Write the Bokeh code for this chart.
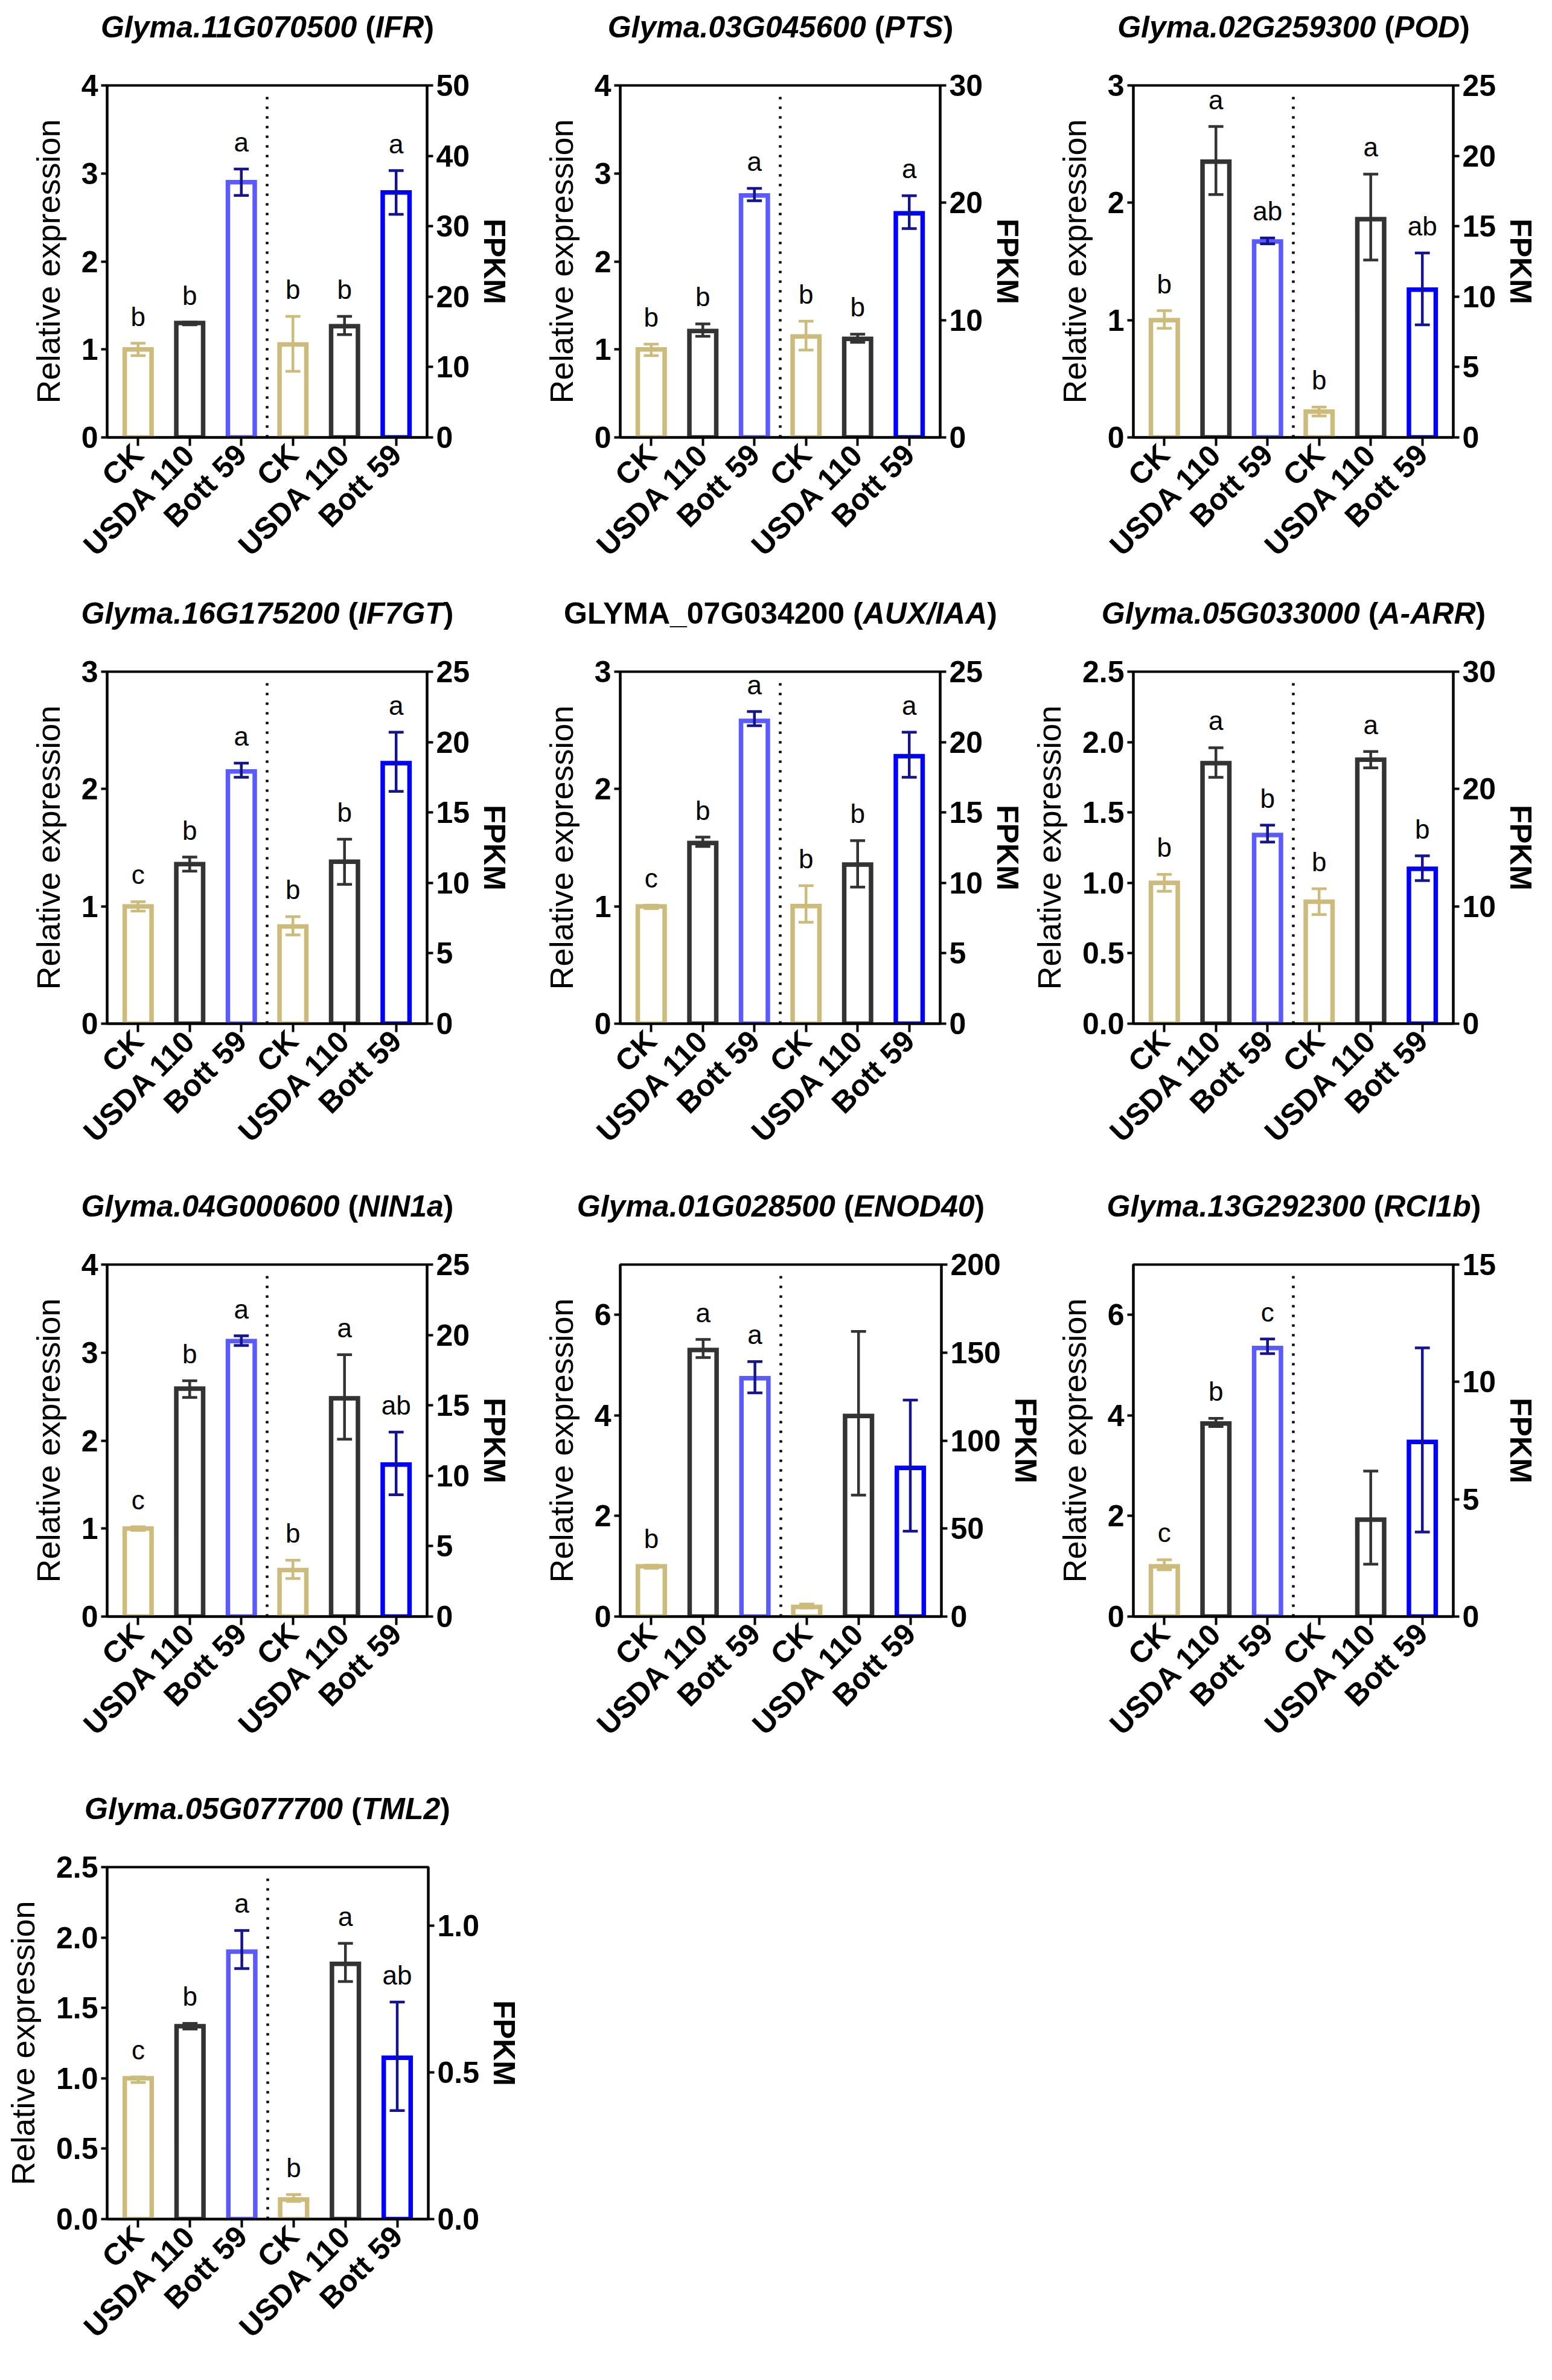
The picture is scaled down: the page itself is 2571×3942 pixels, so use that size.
import math
from bokeh.plotting import figure
from bokeh.models import Range1d, LinearAxis, FixedTicker, Div, NumeralTickFormatter
from bokeh.layouts import column, row
from bokeh.embed import file_html
from bokeh.resources import INLINE
from bokeh.core.properties import value

# ---------------- data ----------------
groups = ["CK", "USDA 110", "Bott 59"]

gene_ids = ["Glyma.11G070500", "Glyma.03G045600", "Glyma.02G259300",
            "Glyma.16G175200", "GLYMA_07G034200", "Glyma.05G033000",
            "Glyma.04G000600", "Glyma.01G028500", "Glyma.13G292300",
            "Glyma.05G077700"]
gene_names = ["IFR", "PTS", "POD", "IF7GT", "AUX/IAA", "A-ARR",
              "NIN1a", "ENOD40", "RCI1b", "TML2"]
id_italic = [True, True, True, True, False, True, True, True, True, True]

rel_ylim = [4, 4, 3, 3, 3, 2.5, 4, 7, 7, 2.5]
rel_ticks = [[0, 1, 2, 3, 4], [0, 1, 2, 3, 4], [0, 1, 2, 3], [0, 1, 2, 3],
             [0, 1, 2, 3], [0, 0.5, 1, 1.5, 2, 2.5], [0, 1, 2, 3, 4],
             [0, 2, 4, 6], [0, 2, 4, 6], [0, 0.5, 1, 1.5, 2, 2.5]]
rel_fmt = ["0", "0", "0", "0", "0", "0.0", "0", "0", "0", "0.0"]
fpkm_ylim = [50, 30, 25, 25, 25, 30, 25, 200, 15, 1.2]
fpkm_ticks = [[0, 10, 20, 30, 40, 50], [0, 10, 20, 30], [0, 5, 10, 15, 20, 25],
              [0, 5, 10, 15, 20, 25], [0, 5, 10, 15, 20, 25], [0, 10, 20, 30],
              [0, 5, 10, 15, 20, 25], [0, 50, 100, 150, 200], [0, 5, 10, 15],
              [0, 0.5, 1.0]]
fpkm_fmt = ["0", "0", "0", "0", "0", "0", "0", "0", "0", "0.0"]

rel_mean = [[1.00, 1.30, 2.90], [1.00, 1.21, 2.75], [1.00, 2.35, 1.67],
            [1.00, 1.36, 2.15], [1.00, 1.54, 2.58], [1.00, 1.85, 1.34],
            [1.00, 2.59, 3.13], [1.00, 5.30, 4.74], [1.00, 3.84, 5.34],
            [1.00, 1.37, 1.90]]
rel_lo = [[0.93, 1.28, 2.75], [0.93, 1.15, 2.69], [0.93, 2.07, 1.65],
          [0.96, 1.30, 2.10], [0.98, 1.51, 2.54], [0.94, 1.75, 1.29],
          [0.98, 2.49, 3.08], [0.96, 5.15, 4.45], [0.93, 3.78, 5.23],
          [0.97, 1.35, 1.78]]
rel_hi = [[1.07, 1.31, 3.05], [1.06, 1.29, 2.83], [1.08, 2.65, 1.70],
          [1.04, 1.42, 2.22], [1.01, 1.59, 2.66], [1.06, 1.96, 1.41],
          [1.02, 2.68, 3.19], [1.02, 5.51, 5.07], [1.13, 3.94, 5.52],
          [1.01, 1.39, 2.05]]

fpkm_mean = [[13.2, 15.8, 34.8], [8.6, 8.4, 19.1], [1.83, 15.5, 10.5],
             [6.9, 11.5, 18.5], [8.35, 11.3, 19.0], [10.4, 22.5, 13.2],
             [3.3, 15.5, 10.8], [5.5, 114, 84.5], [0, 4.13, 7.44],
             [0.067, 0.87, 0.55]]
fpkm_lo = [[9.4, 14.6, 31.7], [7.45, 8.1, 17.8], [1.52, 12.6, 8.0],
           [6.3, 9.9, 16.5], [7.2, 9.7, 17.5], [9.3, 21.8, 12.2],
           [2.7, 12.6, 8.65], [4.9, 69, 48.5], [0, 2.23, 3.6],
           [0.06, 0.81, 0.37]]
fpkm_hi = [[17.2, 17.2, 37.9], [9.9, 8.8, 20.6], [2.15, 18.7, 13.1],
           [7.6, 13.1, 20.7], [9.8, 13.0, 20.7], [11.5, 23.2, 14.3],
           [4.0, 18.6, 13.1], [7.1, 162, 123], [0, 6.2, 11.45],
           [0.084, 0.94, 0.74]]

rel_letters = [["b", "b", "a"], ["b", "b", "a"], ["b", "a", "ab"],
               ["c", "b", "a"], ["c", "b", "a"], ["b", "a", "b"],
               ["c", "b", "a"], ["b", "a", "a"], ["c", "b", "c"],
               ["c", "b", "a"]]
fpkm_letters = [["b", "b", "a"], ["b", "b", "a"], ["b", "a", "ab"],
                ["b", "b", "a"], ["b", "b", "a"], ["b", "a", "b"],
                ["b", "a", "ab"], ["", "", ""], ["", "", ""],
                ["b", "a", "ab"]]

# ---------------- style ----------------
FONT = "Liberation Sans"
rel_colors = ["#CDBB7B", "#333333", "#5A5AFF"]
fpkm_colors = ["#CDBB7B", "#333333", "#0000FF"]
err_colors = ["#CDBB7B", "#333333", "#14148C"]

FRAME_W = 532
TOP_B = 141
TITLE_H = 90


def style_axis(ax):
    ax.axis_line_width = 4
    ax.axis_line_color = "black"
    ax.major_tick_line_width = 4
    ax.major_tick_line_color = "black"
    ax.major_tick_out = 10
    ax.major_tick_in = 0
    ax.minor_tick_line_color = None
    ax.major_label_text_font = FONT
    ax.major_label_text_font_style = "bold"
    ax.major_label_text_font_size = "50px"
    ax.major_label_text_color = "black"
    ax.major_label_standoff = 5


def make_title(i, width, left_b):
    gid = f"<i>{gene_ids[i]}</i>" if id_italic[i] else gene_ids[i]
    html_text = f"{gid} (<i>{gene_names[i]}</i>)"
    shift = (left_b + FRAME_W / 2) - width / 2
    inner = (f'<div style="position:relative; left:{shift:.0f}px; top:5px; width:{width}px; '
             f'text-align:center; white-space:nowrap; font-family:\'{FONT}\'; '
             f'font-weight:bold; font-size:50px; color:black; '
             f'line-height:{TITLE_H - 10}px; height:{TITLE_H - 10}px;">{html_text}</div>')
    return Div(text=inner, width=width, height=TITLE_H, margin=(0, 0, 0, 0))


def make_panel(i, width, height, left_b, right_b, bottom_b):
    p = figure(width=width, height=height - TITLE_H,
               x_range=Range1d(-0.6, 5.6), y_range=Range1d(0, rel_ylim[i]),
               output_backend="svg", toolbar_location=None,
               min_border_left=left_b, min_border_right=right_b,
               min_border_top=TOP_B - TITLE_H, min_border_bottom=bottom_b,
               background_fill_color="white", border_fill_color="white",
               margin=(0, 0, 0, 0))
    p.extra_y_ranges = {"fpkm": Range1d(0, fpkm_ylim[i])}
    p.xgrid.visible = False
    p.ygrid.visible = False
    p.outline_line_color = "black"
    p.outline_line_width = 4

    n = len(groups)
    xl = list(range(n))
    xr = [k + n for k in range(n)]

    # x axis
    xa = p.xaxis[0]
    style_axis(xa)
    xa.ticker = FixedTicker(ticks=xl + xr)
    xa.major_label_overrides = {k: groups[k % n] for k in xl + xr}
    xa.major_label_orientation = math.pi / 4
    xa.major_tick_out = 14
    xa.major_label_standoff = 6

    # left axis
    ya = p.yaxis[0]
    style_axis(ya)
    ya.ticker = FixedTicker(ticks=rel_ticks[i])
    ya.formatter = NumeralTickFormatter(format=rel_fmt[i])
    ya.axis_label = "Relative expression"
    ya.axis_label_text_font = FONT
    ya.axis_label_text_font_style = "normal"
    ya.axis_label_text_font_size = "54px"
    ya.axis_label_text_color = "black"
    ya.axis_label_standoff = 22

    # right axis
    ra = LinearAxis(y_range_name="fpkm", axis_label="FPKM")
    style_axis(ra)
    ra.ticker = FixedTicker(ticks=fpkm_ticks[i])
    ra.formatter = NumeralTickFormatter(format=fpkm_fmt[i])
    ra.axis_label_text_font = FONT
    ra.axis_label_text_font_style = "bold"
    ra.axis_label_text_font_size = "50px"
    ra.axis_label_text_color = "black"
    ra.axis_label_standoff = 10
    p.add_layout(ra, "right")

    # dotted separator between qRT-PCR and RNA-seq groups
    sep = n - 0.5
    p.segment(x0=[sep], y0=[0], x1=[sep], y1=[rel_ylim[i] * 0.975],
              line_color="black", line_width=4.5, line_dash="4 12")

    def draw(xs, mean, lo, hi, letters, colors, rng):
        kw = {} if rng is None else {"y_range_name": rng}
        keep = [k for k in range(n) if mean[k] > 0]
        p.vbar(x=[xs[k] for k in keep], top=[mean[k] for k in keep],
               bottom=0, width=0.52, fill_color="white",
               line_color=[colors[k] for k in keep], line_width=7.5,
               line_join="miter", **kw)
        ke = [k for k in range(n) if hi[k] > 0]
        ex = [xs[k] for k in ke]
        ec = [err_colors[k] for k in ke]
        p.segment(x0=ex, y0=[lo[k] for k in ke], x1=ex, y1=[hi[k] for k in ke],
                  line_color=ec, line_width=4.5, **kw)
        for ends in (lo, hi):
            p.segment(x0=[x - 0.145 for x in ex], y0=[ends[k] for k in ke],
                      x1=[x + 0.145 for x in ex], y1=[ends[k] for k in ke],
                      line_color=ec, line_width=4.5, **kw)
        p.text(x=xs, y=hi, text=letters, text_align="center",
               text_baseline="bottom", y_offset=-20,
               text_font=value(FONT), text_font_size="44px",
               text_color="black", **kw)

    draw(xl, rel_mean[i], rel_lo[i], rel_hi[i], rel_letters[i], rel_colors, None)
    draw(xr, fpkm_mean[i], fpkm_lo[i], fpkm_hi[i], fpkm_letters[i], fpkm_colors, "fpkm")

    return column(make_title(i, width, left_b), p, spacing=0)


rows_spec = [
    # (panel indices, widths, left borders, right borders, height, bottom border)
    ([0, 1, 2], [850, 850, 850], [177, 177, 177], [141, 141, 141], 971, 247),
    ([3, 4, 5], [850, 850, 850], [177, 177, 177], [141, 141, 141], 982, 258),
    ([6, 7, 8], [850, 879, 821], [177, 177, 148], [141, 170, 141], 998, 274),
    ([9], [900], [177], [191], 970, 246),
]

rows = []
for idx, widths, lefts, rights, h, bb in rows_spec:
    cells = [make_panel(i, w, h, lb, rb, bb)
             for i, w, lb, rb in zip(idx, widths, lefts, rights)]
    rows.append(row(*cells, spacing=0))

layout = column(*rows, spacing=0)
open("out.html", "w").write(file_html(layout, INLINE))
